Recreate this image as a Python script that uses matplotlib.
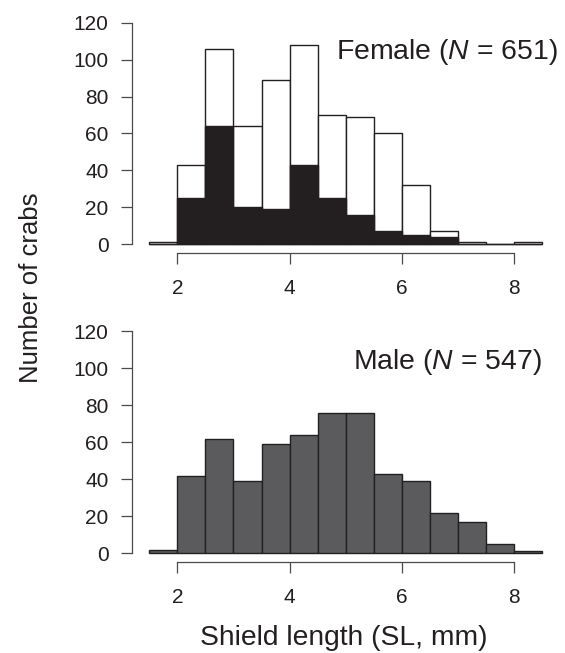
import matplotlib
matplotlib.use('Agg')
import matplotlib.pyplot as plt

plt.rcParams['font.family'] = ['Liberation Sans', 'DejaVu Sans']
plt.rcParams['mathtext.fontset'] = 'custom'
plt.rcParams['mathtext.rm'] = 'Liberation Sans'
plt.rcParams['mathtext.it'] = 'Liberation Sans:italic'

# histogram bins (left edges, mm) and counts
bin_left = [1.5, 2.0, 2.5, 3.0, 3.5, 4.0, 4.5, 5.0, 5.5, 6.0, 6.5, 7.0, 7.5, 8.0]
female_all = [1, 43, 106, 64, 89, 108, 70, 69, 60, 32, 7, 1, 0, 1]
female_dark = [0, 25, 64, 20, 19, 43, 25, 16, 7, 5, 4, 0, 0, 0]
male_all = [2, 42, 62, 39, 59, 64, 76, 76, 43, 39, 22, 17, 5, 1]

x_ticks = [2, 4, 6, 8]
y_ticks = [0, 20, 40, 60, 80, 100, 120]

axis_col = '#4a4a4a'
dark = '#231f20'
grey = '#5b5b5d'

fig = plt.figure(figsize=(5.65, 6.53), dpi=100)
ax1 = fig.add_axes([0.2342, 0.6123, 0.7556, 0.3666])
ax2 = fig.add_axes([0.2342, 0.1390, 0.7556, 0.3675])

ax1.bar(bin_left, female_all, width=0.5, align='edge', color='white',
        edgecolor=dark, linewidth=1.0)
ax1.bar(bin_left, female_dark, width=0.5, align='edge', color=dark,
        edgecolor=dark, linewidth=1.0)
ax2.bar(bin_left, male_all, width=0.5, align='edge', color=grey,
        edgecolor=dark, linewidth=1.0)

for ax in (ax1, ax2):
    ax.set_xlim(1.2, 8.8)
    ax.set_ylim(-4.8, 124.8)
    ax.set_xticks(x_ticks)
    ax.set_yticks(y_ticks)
    for s in ('top', 'right'):
        ax.spines[s].set_visible(False)
    ax.spines['left'].set_bounds(0, 120)
    ax.spines['bottom'].set_bounds(2, 8)
    for s in ('left', 'bottom'):
        ax.spines[s].set_color(axis_col)
        ax.spines[s].set_linewidth(0.9)
    ax.tick_params(axis='both', direction='out', length=8.1, width=0.9,
                   color=axis_col, labelsize=15, labelcolor='#231f20')
    ax.tick_params(axis='y', pad=8.9)
    ax.tick_params(axis='x', pad=10.3)
    ax.patch.set_visible(False)

fig.text(0.9864, 0.9092, 'Female ($N$ = 651)', ha='right', va='baseline',
         fontsize=20.4, color='#231f20')
fig.text(0.9588, 0.4345, 'Male ($N$ = 547)', ha='right', va='baseline',
         fontsize=20.4, color='#231f20')

fig.text(0.6076, 0.0123, 'Shield length (SL, mm)', ha='center', va='baseline',
         fontsize=20.3, color='#231f20')
fig.text(0.055, 0.5594, 'Number of crabs', ha='center', va='center',
         rotation=90, fontsize=18.5, color='#231f20')

fig.savefig('out.png', dpi=100)
